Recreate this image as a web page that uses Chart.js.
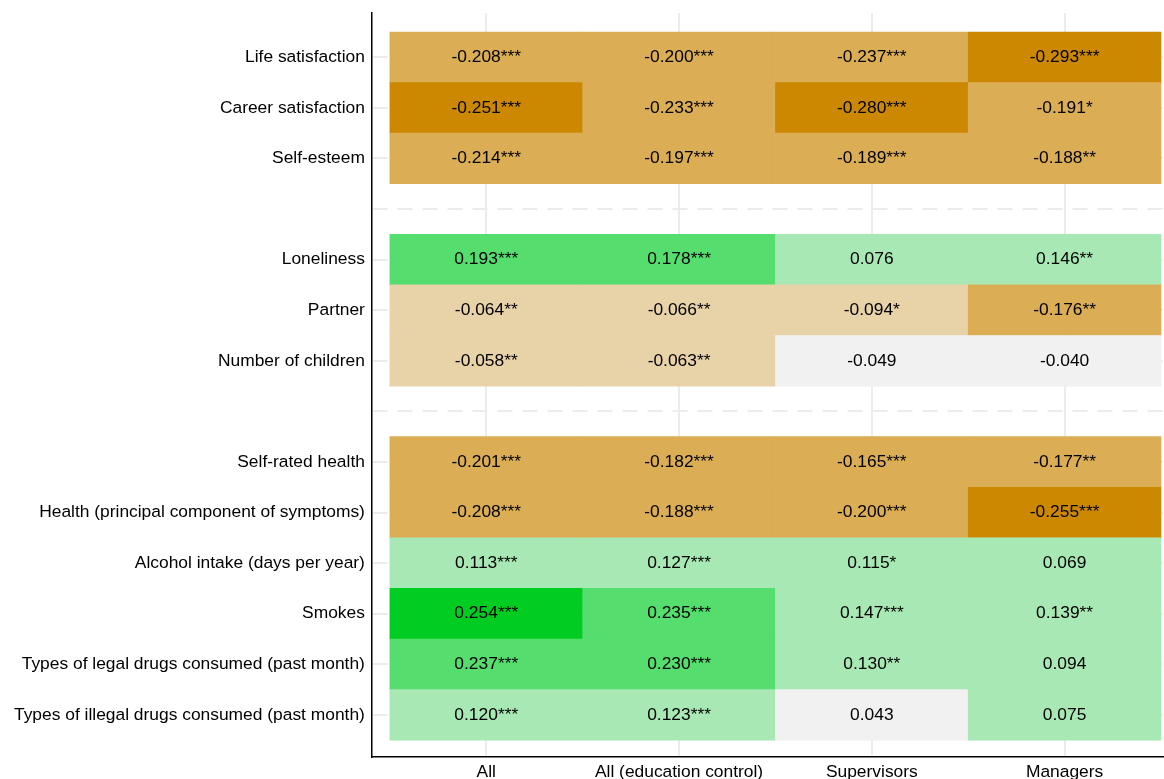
<!DOCTYPE html>
<html>
<head>
<meta charset="utf-8">
<title>Correlation heatmap</title>
<script src="https://cdn.jsdelivr.net/npm/chart.js@4"></script>
<style>
  html, body { margin: 0; padding: 0; background: #ffffff; overflow: hidden; }
  #wrap { position: relative; width: 1164px; height: 800px; }
</style>
</head>
<body>
<div id="wrap"><canvas id="chart"></canvas></div>
<script>
// Row labels, top to bottom; empty strings are spacer rows between groups
const rowLabels = [
  'Life satisfaction',
  'Career satisfaction',
  'Self-esteem',
  '',
  'Loneliness',
  'Partner',
  'Number of children',
  '',
  'Self-rated health',
  'Health (principal component of symptoms)',
  'Alcohol intake (days per year)',
  'Smokes',
  'Types of legal drugs consumed (past month)',
  'Types of illegal drugs consumed (past month)'
];

// Column (sample) labels
const columnLabels = ['All', 'All (education control)', 'Supervisors', 'Managers'];

// Coefficients per column (null = spacer row)
const valuesAll = [-0.208, -0.251, -0.214, null, 0.193, -0.064, -0.058, null, -0.201, -0.208, 0.113, 0.254, 0.237, 0.120];
const valuesEdu = [-0.200, -0.233, -0.197, null, 0.178, -0.066, -0.063, null, -0.182, -0.188, 0.127, 0.235, 0.230, 0.123];
const valuesSup = [-0.237, -0.280, -0.189, null, 0.076, -0.094, -0.049, null, -0.165, -0.200, 0.115, 0.147, 0.130, 0.043];
const valuesMgr = [-0.293, -0.191, -0.188, null, 0.146, -0.176, -0.040, null, -0.177, -0.255, 0.069, 0.139, 0.094, 0.075];

// Significance stars per column
const starsAll = ['***', '***', '***', '', '***', '**', '**', '', '***', '***', '***', '***', '***', '***'];
const starsEdu = ['***', '***', '***', '', '***', '**', '**', '', '***', '***', '***', '***', '***', '***'];
const starsSup = ['***', '***', '***', '', '', '*', '', '', '***', '***', '*', '***', '**', ''];
const starsMgr = ['***', '*', '**', '', '**', '**', '', '', '**', '***', '', '**', '', ''];

const columnValues = [valuesAll, valuesEdu, valuesSup, valuesMgr];
const columnStars = [starsAll, starsEdu, starsSup, starsMgr];

// Colour bins by magnitude: |v| < .05, < .15, < .25, >= .25
const NEUTRAL = '#f1f1f1';
const NEG_SHADES = ['#e8d2a8', '#dbad55', '#cc8800'];
const POS_SHADES = ['#a8e8b4', '#55dd6e', '#00cc22'];
function cellColor(v) {
  const a = Math.abs(v);
  const level = a < 0.05 ? 0 : a < 0.15 ? 1 : a < 0.25 ? 2 : 3;
  if (level === 0) return NEUTRAL;
  return v < 0 ? NEG_SHADES[level - 1] : POS_SHADES[level - 1];
}

// One floating bar per cell: spans its column on x, sits on its row on y
const cells = [];
columnValues.forEach((vals, c) => {
  vals.forEach((v, r) => {
    if (v === null) return;
    cells.push({ x: [c - 0.5, c + 0.5], y: r, v: v, s: columnStars[c][r] });
  });
});

const FONT = { family: '"Liberation Sans", Arial, Helvetica, sans-serif', size: 17.4 };
const GRID = '#ececec';

// Writes each coefficient (with stars) at the centre of its cell
const cellText = {
  id: 'cellText',
  afterDatasetsDraw(chart) {
    const ctx = chart.ctx;
    const meta = chart.getDatasetMeta(0);
    ctx.save();
    ctx.font = FONT.size + 'px ' + FONT.family;
    ctx.fillStyle = '#000000';
    ctx.textAlign = 'center';
    ctx.textBaseline = 'middle';
    meta.data.forEach((el, i) => {
      const d = chart.data.datasets[0].data[i];
      const p = el.getCenterPoint();
      ctx.fillText(d.v.toFixed(3) + d.s, p.x, p.y);
    });
    ctx.restore();
  }
};

Chart.defaults.color = '#000000';
Chart.defaults.font.family = FONT.family;
Chart.defaults.font.size = FONT.size;

new Chart(document.getElementById('chart'), {
  type: 'bar',
  data: {
    datasets: [{
      data: cells,
      backgroundColor: ctx => cellColor(ctx.raw.v),
      borderWidth: 0,
      borderSkipped: false,
      barPercentage: 1,
      categoryPercentage: 1
    }]
  },
  options: {
    indexAxis: 'y',
    responsive: true,
    maintainAspectRatio: false,
    animation: false,
    layout: { padding: { top: 13, left: 7, right: 0, bottom: 12 } },
    plugins: { legend: { display: false }, tooltip: { enabled: false } },
    scales: {
      x: {
        type: 'linear',
        min: -0.5934,
        max: 3.5156,
        afterBuildTicks: axis => { axis.ticks = columnLabels.map((_, i) => ({ value: i })); },
        ticks: {
          autoSkip: false,
          maxRotation: 0,
          padding: 5,
          font: FONT,
          callback: v => columnLabels[v]
        },
        grid: { color: GRID, lineWidth: 2, drawTicks: false },
        border: { display: true, color: '#000000', width: 1.5 }
      },
      y: {
        type: 'linear',
        offset: false,
        reverse: true,
        min: -0.876,
        max: 13.836,
        afterBuildTicks: axis => { axis.ticks = rowLabels.map((_, i) => ({ value: i })); },
        // row labels sit well inside the range, so no extra end padding is needed
        afterFit: axis => { axis.paddingTop = 0; axis.paddingBottom = 0; },
        ticks: {
          autoSkip: false,
          padding: 7,
          font: FONT,
          callback: v => rowLabels[v]
        },
        grid: { color: GRID, lineWidth: 2, drawTicks: false, offset: false },
        border: { display: true, color: '#000000', width: 1.5, dash: [15, 10] }
      }
    }
  },
  plugins: [cellText]
});
</script>
</body>
</html>
